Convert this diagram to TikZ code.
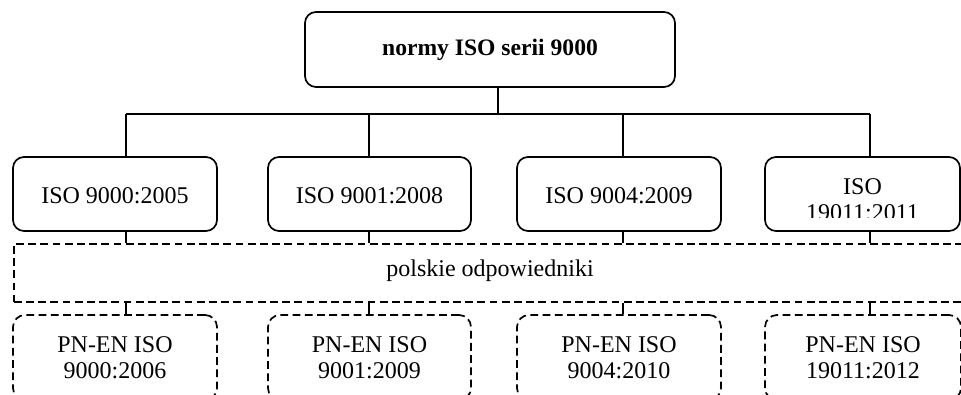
\documentclass[tikz,border=0pt]{standalone}
\usepackage{fontspec}
\setmainfont{Liberation Serif}
\newcommand{\lowered}[2]{\raisebox{-#1}[\height][\depth]{#2}}
\newcommand{\twolines}[2]{\lowered{1.5pt}{\fontsize{12}{13.2}\selectfont\begin{tabular}{@{}c@{}}#1\\#2\end{tabular}}}
\begin{document}
\begin{tikzpicture}[x=0.5pt,y=-0.5pt,
  line width=0.85pt,
  base/.style={draw, align=center, inner sep=0pt, font=\fontsize{12}{13}\selectfont},
  solidbox/.style={base, rounded corners=5.5pt, minimum height=37pt},
  dashbox/.style={base, dash pattern=on 3.9pt off 2.2pt, rounded corners=6pt, minimum height=42.5pt, minimum width=102pt},
  dashline/.style={dash pattern=on 3.9pt off 2.2pt}
]
\useasboundingbox (0,0) rectangle (961,395);
\clip (0,0) rectangle (961,395);

% top node
\node[solidbox, minimum width=185pt, minimum height=37.5pt, font=\fontsize{11.8}{13}\selectfont\bfseries] (top) at (490,49.5) {normy ISO serii 9000};

% level 2 boxes
\node[solidbox, minimum width=102pt] (l1) at (115,194) {\lowered{1pt}{ISO 9000:2005}};
\node[solidbox, minimum width=101.5pt] (l2) at (369.5,194) {\lowered{1pt}{ISO 9001:2008}};
\node[solidbox, minimum width=102pt] (l3) at (619,194) {\lowered{1pt}{ISO 9004:2009}};
\node[solidbox, minimum width=97.5pt] (l4) at (862.5,194) {};
\begin{scope}
  \clip (765,157) rectangle (960,217);
  \node[base, draw=none] (l4text) at (l4.center) [yshift=-3pt] {ISO\\19011:2011};
\end{scope}

% band
\node[base, dashline, minimum width=476pt, minimum height=29pt, anchor=north west] (band) at (13,243) {};
\node[base, draw=none] (bandtext) at (490,271) {polskie odpowiedniki};

% lower dashed boxes
\node[dashbox] (p1) at (115,357.5) {\twolines{PN-EN ISO}{9000:2006}};
\node[dashbox, minimum width=101.5pt] (p2) at (369.5,357.5) {\twolines{PN-EN ISO}{9001:2009}};
\node[dashbox] (p3) at (619,357.5) {\twolines{PN-EN ISO}{9004:2010}};
\node[dashbox, minimum width=98pt] (p4) at (863,357.5) {\twolines{PN-EN ISO}{19011:2012}};

% bus coordinates
\coordinate (j) at (498,114);
\coordinate (b1) at (126,114);
\coordinate (b2) at (369,114);
\coordinate (b3) at (623,114);
\coordinate (b4) at (870,114);

\draw (top.south -| j) -- (j);
\draw (b1) -- (b4);
\foreach \i in {1,2,3,4}{
  \draw (b\i) -- (b\i |- l\i.north);
  \draw (l\i.south -| b\i) -- (b\i |- band.north);
  \draw (band.south -| b\i) -- (b\i |- p\i.north);
}
\end{tikzpicture}
\end{document}
